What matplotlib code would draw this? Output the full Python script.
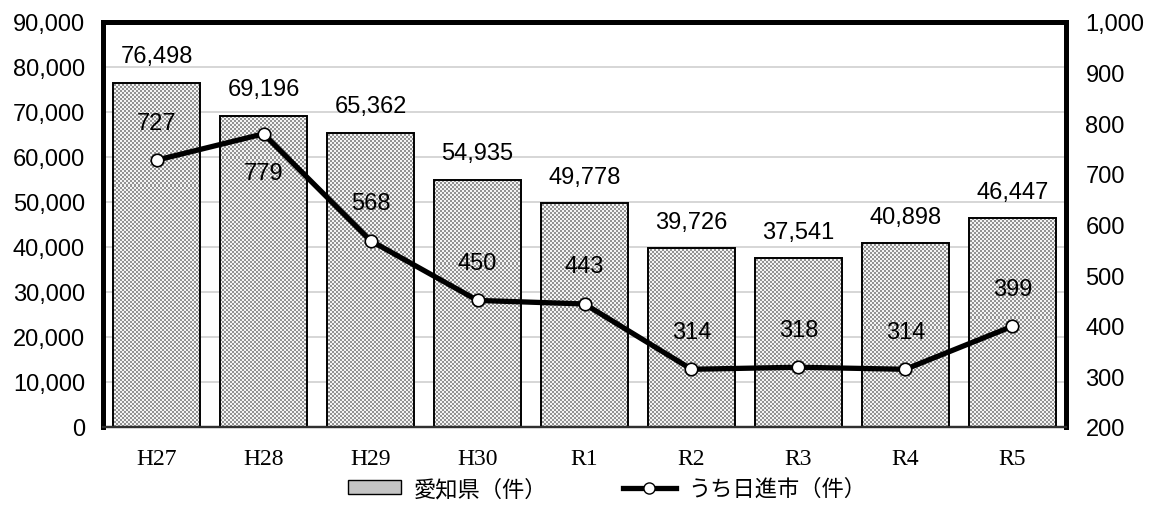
import numpy as np
import matplotlib
matplotlib.use("Agg")
import matplotlib.pyplot as plt
from matplotlib.lines import Line2D
from matplotlib.patches import Patch

categories = ["H27", "H28", "H29", "H30", "R1", "R2", "R3", "R4", "R5"]
aichi = [76498, 69196, 65362, 54935, 49778, 39726, 37541, 40898, 46447]
nisshin = [727, 779, 568, 450, 443, 314, 318, 314, 399]
nisshin_label_below = [False, True, False, False, False, False, False, False, False]

W, H, DPI = 1154, 510, 100
fig = plt.figure(figsize=(W / DPI, H / DPI), dpi=DPI)
ax = fig.add_axes([0.0893, 0.1608, 0.8344, 0.7942])
ax2 = ax.twinx()

num_font = "Liberation Sans"
fs = 17

x = np.arange(len(categories))
bars = ax.bar(x, aichi, width=0.81, facecolor="#c4c4c4", edgecolor="black",
              linewidth=1.4, zorder=2)

# fine checkerboard fill, 2x2 pixel squares, clipped to each bar
yy, xx = np.mgrid[0:H, 0:W]
checker = ((xx // 2 + yy // 2) % 2).astype(float)
rgba = np.ones((H, W, 4))
rgba[..., :3] = np.where(checker[..., None] > 0.5, 0.96, 0.58)
for b in bars:
    im = ax.imshow(rgba, extent=(0, 1, 0, 1), transform=fig.transFigure,
                   interpolation="nearest", aspect="auto", zorder=2.1)
    im.set_clip_path(b)
    b.set_facecolor("none")
    b.set_zorder(2.2)

for xi, v in zip(x, aichi):
    ax.annotate(f"{v:,}", (xi, v), xytext=(0, 19), textcoords="offset points",
                ha="center", va="center", fontsize=fs, family=num_font, zorder=5)

ax.set_xlim(-0.5, len(categories) - 0.5)
ax.set_ylim(0, 90000)
ax.set_yticks(range(0, 90001, 10000))
ax.set_yticklabels([f"{t:,}" for t in range(0, 90001, 10000)],
                   fontsize=fs, family=num_font)
ax.set_xticks(x)
ax.set_xticklabels(categories, fontsize=fs, family="Liberation Serif")
ax.yaxis.grid(True, color="#d0d0d0", linewidth=1.2, zorder=0)
ax.set_axisbelow(True)
ax.tick_params(axis="y", length=0, pad=13)
ax.tick_params(axis="x", length=0, pad=15)

ax2.plot(x, nisshin, color="black", linewidth=3.8, marker="o", markersize=9,
         markerfacecolor="white", markeredgecolor="black", markeredgewidth=1.2,
         zorder=3)
for xi, v, below in zip(x, nisshin, nisshin_label_below):
    dy = -28 if below else 27
    ax2.annotate(f"{v}", (xi, v), xytext=(0, dy), textcoords="offset points",
                 ha="center", va="center", fontsize=fs, family=num_font)
ax2.set_ylim(200, 1000)
ax2.set_yticks(range(200, 1001, 100))
ax2.set_yticklabels([f"{t:,}" for t in range(200, 1001, 100)],
                    fontsize=fs, family=num_font)
ax2.tick_params(axis="y", length=0, pad=14)

for a in (ax, ax2):
    for side in ("left", "right", "top"):
        a.spines[side].set_linewidth(3.5)
        a.spines[side].set_color("black")
    a.spines["bottom"].set_linewidth(1.6)
    a.spines["bottom"].set_color("#303030")

handles = [
    Patch(facecolor="#c4c4c4", edgecolor="black", linewidth=1.0),
    Line2D([0], [0], color="black", linewidth=3.8, marker="o", markersize=8,
           markerfacecolor="white", markeredgecolor="black"),
]
fig.legend(handles, ["愛知県（件）", "うち日進市（件）"], loc="center",
           bbox_to_anchor=(0.526, 0.04), ncol=2, frameon=False,
           prop={"family": ["Noto Sans CJK JP", "DejaVu Sans"], "size": 16},
           handlelength=2.4, handleheight=0.6, columnspacing=3.4,
           handletextpad=0.55)

fig.savefig("out.png", dpi=DPI)
